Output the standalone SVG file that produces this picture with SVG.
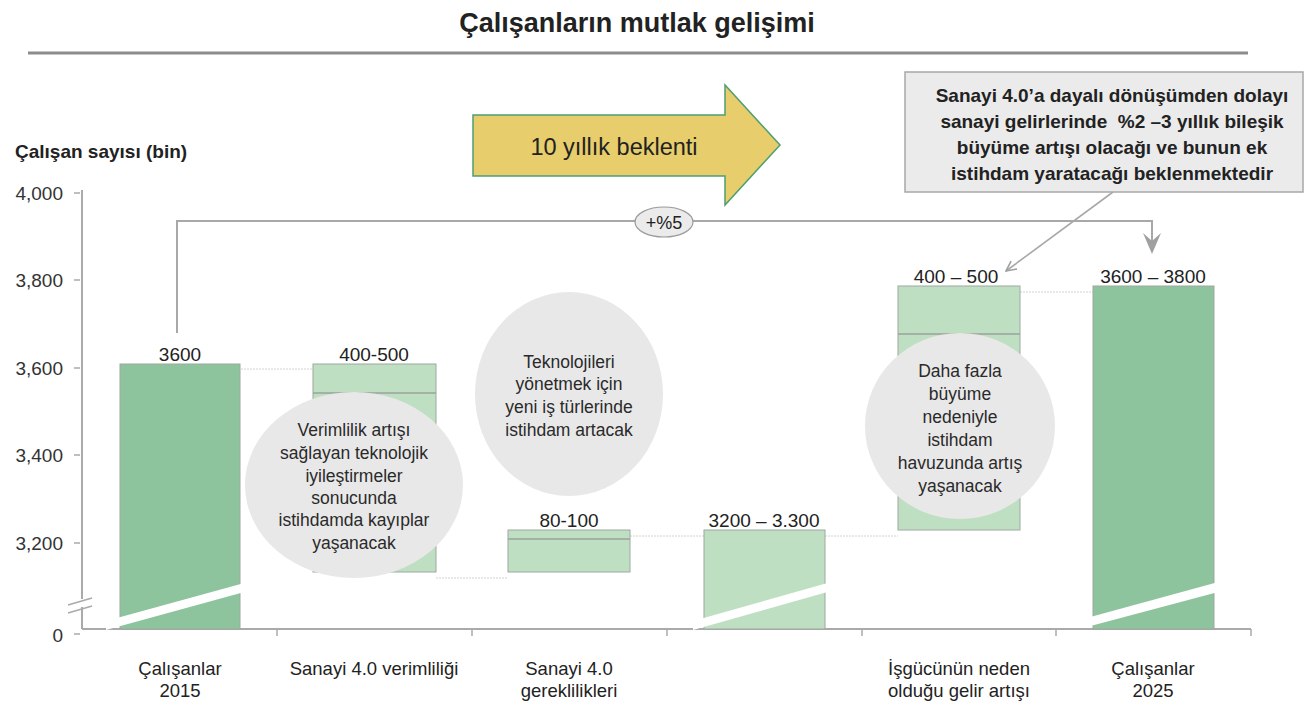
<svg xmlns="http://www.w3.org/2000/svg" width="1307" height="708" viewBox="0 0 1307 708">
  <defs>
    <style>
      text { font-family: "Liberation Sans", Arial, sans-serif; fill: #222; }
      .title { font-size: 27px; font-weight: bold; }
      .ylab { font-size: 19px; font-weight: bold; }
      .tick { font-size: 19px; text-anchor: end; fill: #333; }
      .val { font-size: 19px; text-anchor: middle; }
      .cat { font-size: 18.5px; text-anchor: middle; }
      .bub { font-size: 17.5px; text-anchor: middle; fill: #2a2a2a; }
      .note { font-size: 19px; font-weight: bold; text-anchor: middle; }
      .dark { fill: #8dc49e; stroke: #a0a8a2; stroke-width: 1; }
      .light { fill: #bfdfc3; stroke: #a0a8a2; stroke-width: 1; }
      .split { stroke: #9aa29c; stroke-width: 1.5; }
      .band { fill: #ffffff; }
      .bubble { fill: #e8e8e8; }
      .axis { stroke: #aaaaaa; stroke-width: 2; fill: none; }
      .dot { stroke: #d2d2d2; stroke-width: 1; stroke-dasharray: 2 1; }
      .conn { stroke: #a8a8a8; stroke-width: 2; fill: none; }
    </style>
    <marker id="openHead" viewBox="0 0 12 12" refX="11" refY="6" markerWidth="12" markerHeight="12" markerUnits="userSpaceOnUse" orient="auto">
      <path d="M1,1 L11,6 L1,11" fill="none" stroke="#a0a0a0" stroke-width="1.6"/>
    </marker>
  </defs>

  <!-- heading -->
  <g id="heading">
    <text class="title" x="637" y="32" text-anchor="middle">Çalışanların mutlak gelişimi</text>
    <line x1="28" y1="53" x2="1248" y2="53" stroke="#8c8c8c" stroke-width="3"/>
  </g>

  <!-- value axis -->
  <g id="y-axis">
    <text class="ylab" x="15" y="158">Çalışan sayısı (bin)</text>
    <line class="axis" x1="82" y1="190" x2="82" y2="599"/>
    <line class="axis" x1="82" y1="607" x2="82" y2="629"/>
    <line x1="68" y1="605" x2="92" y2="598" stroke="#aaa" stroke-width="1.5"/>
    <line x1="68" y1="613" x2="92" y2="606" stroke="#aaa" stroke-width="1.5"/>
    <g stroke="#aaa" stroke-width="1.5">
      <line x1="74" y1="193" x2="80" y2="193"/>
      <line x1="74" y1="280" x2="80" y2="280"/>
      <line x1="74" y1="368" x2="80" y2="368"/>
      <line x1="74" y1="455" x2="80" y2="455"/>
      <line x1="74" y1="543" x2="80" y2="543"/>
      <line x1="74" y1="634" x2="80" y2="634"/>
    </g>
    <text class="tick" x="63" y="200">4,000</text>
    <text class="tick" x="63" y="287">3,800</text>
    <text class="tick" x="63" y="375">3,600</text>
    <text class="tick" x="63" y="462">3,400</text>
    <text class="tick" x="63" y="550">3,200</text>
    <text class="tick" x="63" y="642">0</text>
  </g>

  <!-- category axis -->
  <g id="x-axis">
    <line class="axis" x1="82" y1="629" x2="1251" y2="629"/>
    <g stroke="#aaa" stroke-width="1.5">
      <line x1="277" y1="629" x2="277" y2="636"/>
      <line x1="472" y1="629" x2="472" y2="636"/>
      <line x1="667" y1="629" x2="667" y2="636"/>
      <line x1="862" y1="629" x2="862" y2="636"/>
      <line x1="1056" y1="629" x2="1056" y2="636"/>
      <line x1="1251" y1="629" x2="1251" y2="636"/>
    </g>
  </g>

  <!-- level connectors between bars -->
  <g id="connectors">
    <line class="dot" x1="241" y1="369" x2="313" y2="369"/>
    <line class="dot" x1="436" y1="578" x2="507" y2="578"/>
    <line class="dot" x1="630" y1="536" x2="704" y2="536"/>
    <line class="dot" x1="825" y1="536" x2="898" y2="536"/>
    <line class="dot" x1="1020" y1="292" x2="1093" y2="292"/>
    <polyline class="conn" points="177,333 177,221 1152,221 1152,242"/>
    <path d="M1143,233 L1152,254 L1161,233 L1152,241 Z" fill="#a0a0a0"/>
    <line x1="1113" y1="192" x2="1006" y2="271" stroke="#a8a8a8" stroke-width="1.6" marker-end="url(#openHead)"/>
  </g>

  <!-- bars -->
  <g id="bar-2015">
    <rect class="dark" x="120" y="364" width="120" height="265"/>
    <polygon class="band" points="106,621 248,582 248,591 106,630"/>
    <text class="val" x="180" y="361">3600</text>
    <text class="cat" x="180" y="675">Çalışanlar</text>
    <text class="cat" x="180" y="697">2015</text>
  </g>

  <g id="bar-verimlilik">
    <rect class="light" x="313" y="364" width="123" height="208"/>
    <line class="split" x1="313" y1="393" x2="436" y2="393"/>
    <text class="val" x="374" y="361">400-500</text>
    <text class="cat" x="374" y="675">Sanayi 4.0 verimliliği</text>
  </g>

  <g id="bar-gereklilik">
    <rect class="light" x="508" y="530" width="122" height="42"/>
    <line class="split" x1="508" y1="539" x2="630" y2="539"/>
    <text class="val" x="569" y="527">80-100</text>
    <text class="cat" x="569" y="675">Sanayi 4.0</text>
    <text class="cat" x="569" y="697">gereklilikleri</text>
  </g>

  <g id="bar-ara">
    <rect class="light" x="704" y="530" width="121" height="99"/>
    <polygon class="band" points="693,621 831,582 831,591 693,630"/>
    <text class="val" x="764" y="527">3200 – 3.300</text>
  </g>

  <g id="bar-gelir">
    <rect class="light" x="898" y="286" width="122" height="244"/>
    <line class="split" x1="898" y1="334" x2="1020" y2="334"/>
    <text class="val" x="956" y="283">400 – 500</text>
    <text class="cat" x="959" y="675">İşgücünün neden</text>
    <text class="cat" x="959" y="697">olduğu gelir artışı</text>
  </g>

  <g id="bar-2025">
    <rect class="dark" x="1093" y="286" width="121" height="343"/>
    <polygon class="band" points="1083,619 1222,581 1222,591 1083,628"/>
    <text class="val" x="1153" y="283">3600 – 3800</text>
    <text class="cat" x="1153" y="675">Çalışanlar</text>
    <text class="cat" x="1153" y="697">2025</text>
  </g>

  <!-- explanatory bubbles -->
  <g id="bubble-kayip">
    <ellipse class="bubble" cx="354" cy="485" rx="109" ry="93"/>
    <text class="bub" x="354" y="436">Verimlilik artışı</text>
    <text class="bub" x="354" y="459">sağlayan teknolojik</text>
    <text class="bub" x="354" y="482">iyileştirmeler</text>
    <text class="bub" x="354" y="504">sonucunda</text>
    <text class="bub" x="354" y="526">istihdamda kayıplar</text>
    <text class="bub" x="354" y="549">yaşanacak</text>
  </g>

  <g id="bubble-yeni-is">
    <ellipse class="bubble" cx="569" cy="394" rx="94" ry="102"/>
    <text class="bub" x="569" y="368">Teknolojileri</text>
    <text class="bub" x="569" y="390">yönetmek için</text>
    <text class="bub" x="569" y="413">yeni iş türlerinde</text>
    <text class="bub" x="569" y="436">istihdam artacak</text>
  </g>

  <g id="bubble-havuz">
    <ellipse class="bubble" cx="960" cy="426" rx="95" ry="93"/>
    <text class="bub" x="960" y="377">Daha fazla</text>
    <text class="bub" x="960" y="400">büyüme</text>
    <text class="bub" x="960" y="423">nedeniyle</text>
    <text class="bub" x="960" y="446">istihdam</text>
    <text class="bub" x="960" y="469">havuzunda artış</text>
    <text class="bub" x="960" y="492">yaşanacak</text>
  </g>

  <!-- ten-year arrow -->
  <g id="arrow-10-yil">
    <polygon points="473,115 725,115 725,85 780,145 725,205 725,176 473,176" fill="#e7cd6c" stroke="#4f9f70" stroke-width="1.5"/>
    <text x="614" y="155" text-anchor="middle" font-size="23.5">10 yıllık beklenti</text>
  </g>

  <!-- growth badge -->
  <g id="badge-5">
    <ellipse cx="664" cy="222" rx="29" ry="15" fill="#ebebeb" stroke="#9a9a9a" stroke-width="1.2"/>
    <text x="664" y="229" text-anchor="middle" font-size="18">+%5</text>
  </g>

  <!-- note box -->
  <g id="note-box">
    <rect x="905" y="72" width="398" height="120" fill="#ebebeb" stroke="#a8a8a8" stroke-width="1.5"/>
    <text class="note" x="1112" y="102">Sanayi 4.0’a dayalı dönüşümden dolayı</text>
    <text class="note" x="1112" y="128" xml:space="preserve">sanayi gelirlerinde  %2 –3 yıllık bileşik</text>
    <text class="note" x="1112" y="154">büyüme artışı olacağı ve bunun ek</text>
    <text class="note" x="1112" y="180">istihdam yaratacağı beklenmektedir</text>
  </g>
</svg>
